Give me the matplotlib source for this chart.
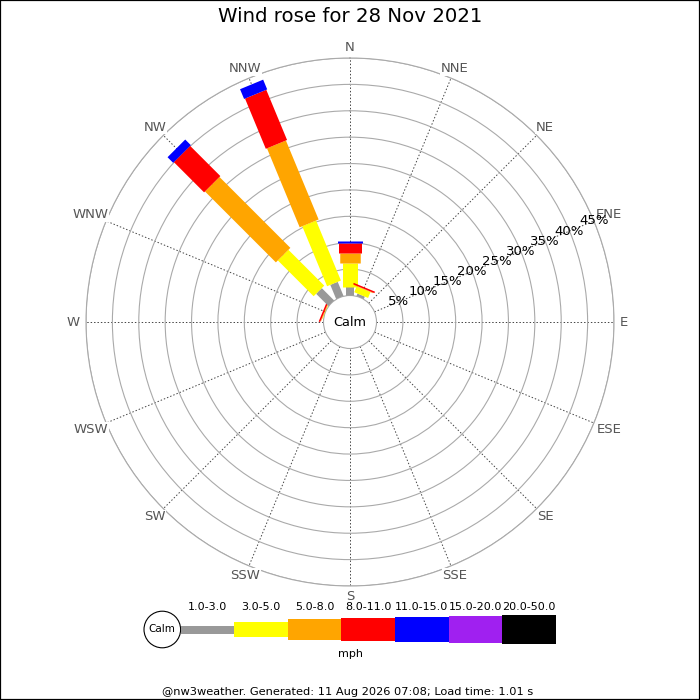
import numpy as np
import matplotlib
matplotlib.use("Agg")
import matplotlib.pyplot as plt
from matplotlib.patches import Circle, Rectangle

# ---------------- data ----------------
directions = ['N', 'NNE', 'NE', 'ENE', 'E', 'ESE', 'SE', 'SSE',
              'S', 'SSW', 'SW', 'WSW', 'W', 'WNW', 'NW', 'NNW']
speed_bands = ['1.0-3.0', '3.0-5.0', '5.0-8.0', '8.0-11.0',
               '11.0-15.0', '15.0-20.0', '20.0-50.0']
#            N    NNE  NE ENE E ESE SE SSE S SSW SW WSW W  WNW  NW    NNW
band_1_3   = [1.7, 0.5, 0, 0, 0, 0, 0, 0, 0, 0, 0, 0, 0, 0.0, 3.3, 2.9]
band_3_5   = [4.4, 1.2, 0, 0, 0, 0, 0, 0, 0, 0, 0, 0, 0, 0.1, 9.6, 12.3]
band_5_8   = [1.9, 0.1, 0, 0, 0, 0, 0, 0, 0, 0, 0, 0, 0, 0.1, 19.0, 16.2]
band_8_11  = [1.9, 0.3, 0, 0, 0, 0, 0, 0, 0, 0, 0, 0, 0, 0.3, 8.1, 10.3]
band_11_15 = [0.5, 0.0, 0, 0, 0, 0, 0, 0, 0, 0, 0, 0, 0, 0.0, 1.5, 2.0]
band_15_20 = [0.0, 0.0, 0, 0, 0, 0, 0, 0, 0, 0, 0, 0, 0, 0.0, 0.0, 0.0]
band_20_50 = [0.0, 0.0, 0, 0, 0, 0, 0, 0, 0, 0, 0, 0, 0, 0.0, 0.0, 0.0]
ring_pcts = [5, 10, 15, 20, 25, 30, 35, 40, 45]
title = 'Wind rose for 28 Nov 2021'
footer = '@nw3weather. Generated: 11 Aug 2026 07:08; Load time: 1.01 s'
unit = 'mph'

series = [band_1_3, band_3_5, band_5_8, band_8_11,
          band_11_15, band_15_20, band_20_50]

# ---------------- styles ----------------
colors = ['#999999', '#ffff00', '#ffa500', '#ff0000',
          '#0000ff', '#a020f0', '#000000']
bar_px = [8, 15, 20.5, 23, 25, 27, 29]   # bar thickness in pixels
DPI = 100
PX2PT = 72.0 / DPI

fig = plt.figure(figsize=(7, 7), dpi=DPI)
fig.patch.set_facecolor('white')

# polar axes: centre (350, 322) px, outer radius 264 px
cx, cy, R = 350, 322, 264
ax = fig.add_axes([(cx - R) / 700, 1 - (cy + R) / 700, 2 * R / 700, 2 * R / 700],
                  projection='polar')
ax.set_theta_zero_location('N')
ax.set_theta_direction(-1)
rmax = max(ring_pcts)
inner_px = 26.5
ax.set_rlim(0, rmax)
ax.set_rorigin(-rmax * inner_px / (R - inner_px))

thetas = np.deg2rad(np.arange(len(directions)) * 360.0 / len(directions))
ax.set_xticks(thetas)
ax.set_xticklabels([])
ax.set_yticks(ring_pcts)
ax.set_yticklabels([])
ax.tick_params(length=0)
ax.xaxis.grid(True, color='#444444', lw=0.7, ls=(0, (1.5, 2.0)))
ax.yaxis.grid(True, color='#aaaaaa', lw=0.8, ls='-')
ax.spines['polar'].set_color('#aaaaaa')
ax.spines['polar'].set_linewidth(0.8)
if 'inner' in ax.spines:
    ax.spines['inner'].set_color('#aaaaaa')
    ax.spines['inner'].set_linewidth(0.8)

# stacked bars as radial strokes of constant width
for i, th in enumerate(thetas):
    base = 0.0
    for s, vals in enumerate(series):
        v = vals[i]
        if v > 0:
            ax.plot([th, th], [base, base + v], color=colors[s],
                    lw=bar_px[s] * PX2PT, solid_capstyle='butt', zorder=3)
        base += v

# percentage labels along ENE
lab_th = thetas[directions.index('ENE')]
for p in ring_pcts:
    ax.text(lab_th, p, f'{p}%', ha='center', va='center', fontsize=9.5,
            color='black', zorder=5)

# calm label
ax.text(0.5, 0.5, 'Calm', transform=ax.transAxes, ha='center', va='center',
        fontsize=9.3, color='black', zorder=6)

# direction labels
anns = []
for th, d in zip(thetas, directions):
    a = ax.annotate(d, xy=(th, rmax), xytext=(0, 0), textcoords='offset pixels',
                    ha='center', va='center', fontsize=9.5, color='#555555',
                    annotation_clip=False, zorder=4,
                    bbox=dict(fc='white', ec='none', pad=0.5))
    anns.append(a)

fig.text(0.5, 1 - 17 / 700, title, ha='center', va='center', fontsize=14.2)

# legend overlay axes in pixel coordinates
lax = fig.add_axes([0, 0, 1, 1])
lax.set_xlim(0, 700)
lax.set_ylim(700, 0)
lax.axis('off')
lax.patch.set_alpha(0)
leg_cy = 629.5
circ_x, circ_r = 162.3, 18.3
lax.add_patch(Circle((circ_x, leg_cy), circ_r, fc='white', ec='black', lw=0.8))
lax.text(circ_x, leg_cy, 'Calm', ha='center', va='center', fontsize=7.5)
seg_w = 53.6
x0 = circ_x + circ_r
xs = x0 + seg_w * (np.arange(len(speed_bands)) + 0.5)
hs = np.array(bar_px, dtype=float)
lax.bar(xs, hs, width=seg_w, bottom=leg_cy - hs / 2, color=colors, lw=0)
for x, lab in zip(xs, speed_bands):
    lax.text(x, 607, lab, ha='center', va='center', fontsize=8)
lax.text(x0 + seg_w * len(speed_bands) / 2 - 18, 654, unit, ha='center',
         va='center', fontsize=8)
lax.text(348, 692, footer, ha='center', va='center', fontsize=8.2)

fig.patches.append(Rectangle((0, 0), 1, 1, transform=fig.transFigure,
                             fill=False, ec='black', lw=1.6))

# position direction labels just outside the outer ring
fig.canvas.draw()
rend = fig.canvas.get_renderer()
gap = 6.0
for a, th in zip(anns, thetas):
    bb = a.get_window_extent(rend)
    hw = bb.width / 2
    hh = bb.height * 0.31
    ux, uy = np.sin(th), np.cos(th)
    cands = []
    if abs(ux) > 1e-6:
        cands.append(hw / abs(ux))
    if abs(uy) > 1e-6:
        cands.append(hh / abs(uy))
    dist = gap + min(cands)
    a.xyann = (dist * ux, dist * uy)

fig.savefig('out.png', dpi=DPI, facecolor='white')
